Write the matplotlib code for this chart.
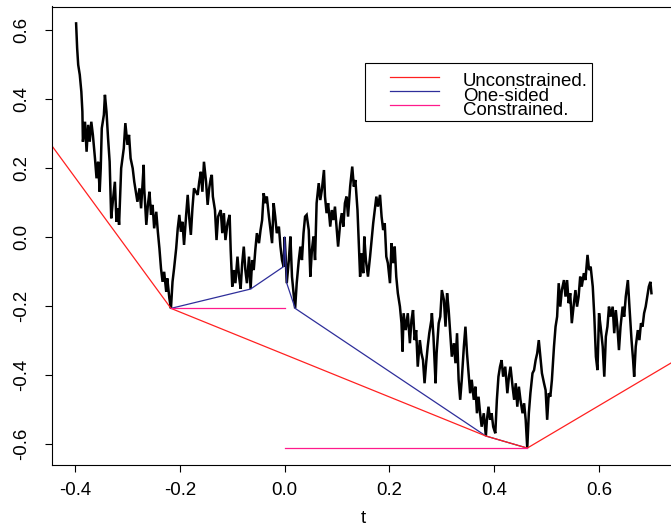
import matplotlib
matplotlib.use("Agg")
import matplotlib.pyplot as plt
from matplotlib.patches import Rectangle
from matplotlib.lines import Line2D

plt.rcParams['font.family'] = ['Liberation Sans', 'DejaVu Sans']

# ---- data ----
path_t = [
    -0.398, -0.396, -0.394, -0.391, -0.388, -0.386, -0.385, -0.381, -0.378, -0.375,
    -0.372, -0.369, -0.366, -0.362, -0.359, -0.356, -0.353, -0.351, -0.349, -0.345,
    -0.343, -0.340, -0.337, -0.334, -0.331, -0.328, -0.324, -0.321, -0.318, -0.316,
    -0.312, -0.307, -0.304, -0.300, -0.297, -0.294, -0.290, -0.287, -0.284, -0.281,
    -0.277, -0.274, -0.269, -0.268, -0.264, -0.261, -0.258, -0.255, -0.252, -0.249,
    -0.245, -0.242, -0.239, -0.236, -0.233, -0.230, -0.226, -0.224, -0.220, -0.217,
    -0.214, -0.211, -0.207, -0.204, -0.201, -0.198, -0.195, -0.192, -0.188, -0.185,
    -0.182, -0.179, -0.176, -0.173, -0.166, -0.163, -0.160, -0.157, -0.154, -0.150,
    -0.147, -0.144, -0.141,
    -0.139, -0.137, -0.133, -0.130, -0.127, -0.122, -0.119, -0.116, -0.113, -0.109,
    -0.105, -0.103, -0.100, -0.097, -0.094, -0.090, -0.087, -0.084, -0.081, -0.078,
    -0.075, -0.072, -0.068, -0.065, -0.062, -0.059, -0.056, -0.053, -0.049, -0.046,
    -0.043, -0.040, -0.037, -0.034, -0.030, -0.027, -0.024, -0.021, -0.018, -0.015,
    -0.011, -0.008, -0.005, -0.002, 0.000, 0.002, 0.004, 0.008, 0.011, 0.014,
    0.017, 0.020, 0.023, 0.027, 0.030, 0.033, 0.036, 0.039, 0.042, 0.046,
    0.049, 0.052, 0.055, 0.058, 0.061, 0.065, 0.068, 0.071, 0.075, 0.077,
    0.080, 0.083, 0.087, 0.090, 0.093, 0.096, 0.099, 0.102, 0.106, 0.109,
    0.112, 0.115, 0.118, 0.121, 0.125, 0.129, 0.132, 0.135, 0.139,
    0.144, 0.147, 0.150, 0.152, 0.155, 0.159, 0.163, 0.166, 0.169, 0.172,
    0.175, 0.178, 0.182, 0.185, 0.188, 0.191, 0.194, 0.197, 0.201, 0.204,
    0.207, 0.210, 0.213, 0.216, 0.220, 0.223, 0.225, 0.227, 0.231, 0.235,
    0.239, 0.242, 0.245, 0.248, 0.251, 0.254, 0.258, 0.261, 0.264, 0.267,
    0.270, 0.273, 0.276, 0.280, 0.281, 0.284, 0.288, 0.290, 0.294, 0.297,
    0.300, 0.304, 0.307, 0.310, 0.313, 0.316, 0.319, 0.323, 0.326, 0.329,
    0.332, 0.335, 0.338, 0.342, 0.345, 0.348, 0.351, 0.354, 0.357, 0.361,
    0.364, 0.367, 0.370, 0.373, 0.376, 0.380, 0.384, 0.386, 0.389, 0.392,
    0.395, 0.398, 0.402, 0.405, 0.408, 0.411, 0.414, 0.417,
    0.421, 0.425, 0.428, 0.431, 0.435, 0.438, 0.441, 0.444, 0.447, 0.450,
    0.454, 0.457, 0.460, 0.463, 0.466, 0.469, 0.473, 0.476, 0.479, 0.482,
    0.485, 0.488, 0.491, 0.495, 0.498, 0.501, 0.504, 0.507, 0.510, 0.514,
    0.517, 0.520, 0.523, 0.526, 0.529, 0.533, 0.536, 0.539, 0.542, 0.545,
    0.548, 0.552, 0.555, 0.558, 0.561, 0.564, 0.567, 0.571, 0.574, 0.578,
    0.581, 0.584, 0.588, 0.591, 0.594, 0.597, 0.600, 0.603, 0.607, 0.610,
    0.613, 0.616, 0.619, 0.622, 0.626, 0.629, 0.632, 0.635, 0.638, 0.641,
    0.645, 0.648, 0.651, 0.655, 0.658, 0.662, 0.665, 0.667, 0.670, 0.674,
    0.677, 0.680, 0.683, 0.686, 0.689, 0.692, 0.695, 0.698, 0.700,
]
path_y = [
    0.619, 0.547, 0.499, 0.470, 0.421, 0.363, 0.276, 0.334, 0.247, 0.325,
    0.276, 0.334, 0.296, 0.228, 0.170, 0.218, 0.131, 0.199, 0.315, 0.354,
    0.412, 0.363, 0.286, 0.218, 0.054, 0.102, 0.160, 0.044, 0.083, 0.035,
    0.199, 0.257, 0.330, 0.267, 0.296, 0.228, 0.199, 0.160, 0.131, 0.102,
    0.141, 0.083, 0.209, 0.141, 0.035, 0.093, 0.131, 0.064, 0.093, 0.025,
    0.073, 0.015, -0.033, -0.091, -0.130, -0.101, -0.159, -0.120, -0.178, -0.207,
    -0.130, -0.091, -0.033, 0.025, 0.064, 0.015, 0.044, -0.023, 0.064, 0.122,
    0.054, 0.006, 0.083, 0.141, 0.122, 0.160, 0.189, 0.131, 0.218, 0.160,
    0.093, 0.141, 0.170,
    0.180, 0.117, 0.078, -0.009, 0.059, 0.078, 0.011, 0.069, -0.009, 0.040,
    0.064, -0.038, -0.144, -0.096, -0.134, -0.057, -0.115, -0.150, -0.076, -0.028,
    -0.096, -0.134, -0.057, -0.151, -0.067, -0.096, -0.038, 0.011, -0.018, 0.020,
    0.049, 0.127, 0.098, 0.117, 0.059, 0.020, -0.018, 0.098, 0.059, 0.011,
    0.030, -0.028, -0.067, -0.086, 0.000, -0.060, -0.134, -0.067, 0.001, -0.115,
    -0.163, -0.207, -0.134, -0.067, -0.028, -0.067, 0.011, 0.059, 0.064, 0.020,
    -0.115, -0.038, 0.001, -0.067, 0.098, 0.156, 0.107, 0.136, 0.194, 0.117,
    0.069, 0.098, 0.030, 0.078, 0.049, 0.088, 0.030, -0.028, 0.040, 0.069,
    0.030, 0.098, 0.117, 0.059, 0.146, 0.204, 0.146, 0.165, 0.078,
    -0.115, -0.047, -0.105, 0.001, -0.067, -0.115, -0.057, -0.009, 0.040, 0.078,
    0.117, 0.088, 0.122, 0.059, 0.020, 0.040, -0.057, -0.076, -0.134, -0.018,
    -0.076, -0.028, -0.115, -0.163, -0.202, -0.250, -0.332, -0.221, -0.270, -0.221,
    -0.308, -0.241, -0.212, -0.299, -0.270, -0.376, -0.299, -0.337, -0.357, -0.424,
    -0.366, -0.318, -0.279, -0.241, -0.221, -0.289, -0.424, -0.337, -0.250, -0.231,
    -0.154, -0.183, -0.260, -0.163, -0.212, -0.279, -0.347, -0.308, -0.366, -0.279,
    -0.414, -0.472, -0.414, -0.318, -0.260, -0.337, -0.395, -0.453, -0.414, -0.472,
    -0.434, -0.511, -0.463, -0.511, -0.550, -0.511, -0.577, -0.530, -0.492, -0.530,
    -0.511, -0.550, -0.569, -0.472, -0.405, -0.376, -0.357, -0.405,
    -0.376, -0.453, -0.405, -0.376, -0.434, -0.472, -0.424, -0.492, -0.434, -0.472,
    -0.511, -0.482, -0.530, -0.612, -0.511, -0.453, -0.395, -0.386, -0.357, -0.337,
    -0.299, -0.347, -0.395, -0.424, -0.444, -0.530, -0.453, -0.463, -0.415, -0.318,
    -0.260, -0.231, -0.134, -0.202, -0.154, -0.125, -0.173, -0.125, -0.192, -0.163,
    -0.250, -0.192, -0.154, -0.202, -0.173, -0.115, -0.144, -0.105, -0.125, -0.052,
    -0.096, -0.086, -0.144, -0.231, -0.347, -0.386, -0.221, -0.260, -0.318, -0.405,
    -0.289, -0.260, -0.202, -0.231, -0.202, -0.279, -0.212, -0.260, -0.328, -0.260,
    -0.202, -0.231, -0.173, -0.125, -0.202, -0.299, -0.357, -0.405, -0.318, -0.270,
    -0.299, -0.250, -0.260, -0.221, -0.202, -0.173, -0.144, -0.130, -0.163,
]

# Unconstrained (red) minorant vertices
red_t = [-0.460, -0.217, 0.384, 0.463, 0.760]
red_y = [0.297, -0.207, -0.577, -0.612, -0.345]

# One-sided (blue) minorant vertices
blue_t = [-0.217, -0.065, -0.002, 0.000, 0.004, 0.020, 0.384, 0.463]
blue_y = [-0.207, -0.151, -0.086, 0.000, -0.134, -0.207, -0.577, -0.612]

# Constrained (magenta) segments
mag1_t = [-0.217, 0.000]
mag1_y = [-0.207, -0.207]
mag2_t = [0.000, 0.463]
mag2_y = [-0.612, -0.612]

legend_labels = ["Unconstrained.", "One-sided", "Constrained."]

x_ticks = [-0.4, -0.2, 0.0, 0.2, 0.4, 0.6]
y_ticks = [-0.6, -0.4, -0.2, 0.0, 0.2, 0.4, 0.6]

# ---- styles ----
RED = "#ff2020"
BLUE = "#2e2e9a"
MAG = "#ff1a8c"

W, H = 671, 526
fig = plt.figure(figsize=(W / 100, H / 100), dpi=100)

def fx(px):
    return px / W

def fy(py):
    return 1 - py / H

ax = fig.add_axes([fx(52), fy(465), (674.5 - 52) / W, (465 - 6.5) / H])
ax.set_xlim(-0.444, 0.744)
ax.set_ylim(-0.661, 0.668)

ax.plot(path_t, path_y, color="black", lw=1.8, solid_joinstyle="miter")
ax.plot(blue_t, blue_y, color=BLUE, lw=0.9)
ax.plot(red_t, red_y, color=RED, lw=0.9)
ax.plot(mag1_t, mag1_y, color=MAG, lw=0.9)
ax.plot(mag2_t, mag2_y, color=MAG, lw=0.9)

ax.set_xticks(x_ticks)
ax.set_xticklabels([f"{v:.1f}" for v in x_ticks])
ax.set_yticks(y_ticks)
ax.set_yticklabels([f"{v:.1f}" for v in y_ticks], rotation=90, va="center")
ax.tick_params(axis="both", direction="out", length=5, width=0.8, labelsize=13.4, colors="black")
ax.tick_params(axis="x", pad=7)
ax.tick_params(axis="y", pad=11)
for s in ax.spines.values():
    s.set_linewidth(0.8)
ax.set_xlabel("t", fontsize=13.4, labelpad=8)

# ---- legend drawn R-style ----
fig.add_artist(Rectangle((fx(365), fy(121)), fx(592) - fx(365), fy(63) - fy(121),
                         transform=fig.transFigure, fill=False, edgecolor="black", lw=0.8))
line_y = [76.7, 91.0, 105.0]
cols = [RED, BLUE, MAG]
for ly, c, lab in zip(line_y, cols, legend_labels):
    fig.add_artist(Line2D([fx(390), fx(439)], [fy(ly), fy(ly)], transform=fig.transFigure,
                          color=c, lw=0.9))
    fig.text(fx(463), fy(ly + 9.7), lab, fontsize=13.4, ha="left", va="baseline")

fig.savefig("out.png", dpi=100)
